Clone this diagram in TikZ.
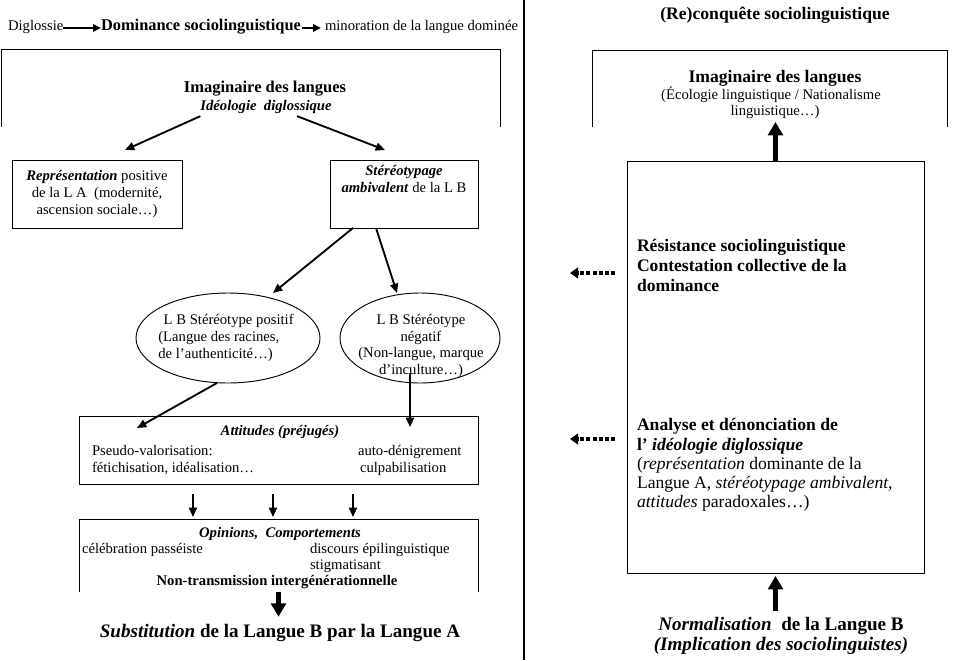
\documentclass[tikz,border=0pt]{standalone}
\usepackage{fontspec}
\setmainfont{Liberation Serif}
\usetikzlibrary{arrows.meta,shapes.geometric,calc}
\newcommand{\szL}{\fontsize{11}{12.65}\selectfont}
\newcommand{\szR}{\fontsize{13.2}{15.2}\selectfont}
\newcommand{\szT}{\fontsize{14.3}{16.5}\selectfont}
\newcommand{\szH}{\fontsize{12.3}{14}\selectfont}
\newcommand{\szI}{\fontsize{12.4}{14}\selectfont}
\begin{document}
\begin{tikzpicture}[x=0.75pt,y=-0.75pt,
  every node/.style={inner sep=0pt,outer sep=0pt},
  box/.style={draw,line width=0.7pt},
  lt/.style={font=\szL},
  ltbi/.style={font=\szL\bfseries\itshape},
  rt/.style={font=\szR},
  rtb/.style={font=\szR\bfseries},
  arr/.style={line width=1.4pt,-{Triangle[length=7pt,width=6pt]}},
  harr/.style={line width=1.4pt,-{Triangle[length=6pt,width=5.5pt]}},
  bigarr/.style={line width=3.8pt,-{Triangle[length=10pt,width=11pt]}},
  dotarr/.style={line width=3pt,dash pattern=on 3pt off 1.6pt,-{Triangle[length=6pt,width=8pt]}}]
\useasboundingbox (0,0) rectangle (963,660);

% header
\node[anchor=base west,lt] (dig) at (8,31) {Diglossie};
\node[anchor=base west,font=\szH\bfseries] (dom) at (101,31) {Dominance sociolinguistique};
\node[anchor=base west,lt] (mino) at (325,31) {minoration de la langue dominée};
\draw[harr] (dig.mid east) -- (dom.mid west);
\draw[harr] ($(dom.mid east)+(1,0)$) -- ($(mino.mid west)+(-4,0)$);
\node[anchor=base,rtb] (reconq) at (775,20) {(Re)conquête sociolinguistique};
\draw[line width=0.8pt] (524,0) -- (524,660);

% left top box
\node[minimum width=374.25pt,minimum height=58.5pt] (ltop) at (250.5,88) {};
\draw[box] (ltop.south west) -- (ltop.north west) -- (ltop.north east) -- (ltop.south east);
\node[anchor=base,font=\szI\bfseries] (imgL) at (265,93) {Imaginaire des langues};
\node[anchor=base,ltbi] (ideo) at (266,110) {Idéologie\ \ diglossique};

% second level
\node[box,minimum width=127.5pt,minimum height=51pt,align=center,lt] (rep) at (97,194)
  {\textbf{\textit{Représentation}} positive\\de la L A\ \ (modernité,\\ascension sociale…)};
\node[box,minimum width=111pt,minimum height=51pt] (ster) at (404,194) {};
\node[anchor=north,align=center,lt] (stert) at (404,165)
  {\textbf{\textit{Stéréotypage}}\\\textbf{\textit{ambivalent}} de la L B};
\draw[arr] ($(ideo.south west)+(0,3)$) -- ($(rep.north)+(28,-10)$);
\draw[arr] ($(ideo.south)+(31,3)$) -- ($(ster.north)+(-19,-10)$);

% ellipses
\node[draw,ellipse,line width=0.7pt,minimum width=138pt,minimum height=67.5pt] (e1) at (228,338) {};
\node[align=left,lt] (e1t) at (226,338)
  {\hspace*{4pt}L B Stéréotype positif\\(Langue des racines,\\de l'authenticité…)};
\node[draw,ellipse,line width=0.7pt,minimum width=120pt,minimum height=67.5pt] (e2) at (420,338) {};
\node[align=center,lt] (e2t) at (421,346)
  {L B Stéréotype\\négatif\\(Non-langue, marque\\d'inculture…)};
\draw[arr] ($(ster.south)+(-51,0)$) -- ($(e1.north)+(45,0)$);
\draw[arr] ($(ster.south)+(-28,0)$) -- ($(e2.north)+(-23,0)$);

% attitudes
\node[box,minimum width=299.25pt,minimum height=51pt] (att) at (278.5,450) {};
\node[anchor=base,ltbi] (atth) at (280,435) {Attitudes (préjugés)};
\node[anchor=base west,lt] (att1) at (92,455) {Pseudo-valorisation:};
\node[anchor=base west,lt] (att2) at (92,472) {fétichisation, idéalisation…};
\node[anchor=base west,lt] (att3) at (358,455) {auto-dénigrement};
\node[anchor=base west,lt] (att4) at (360,472) {culpabilisation};
\draw[arr] ($(e1.south)+(-11,0)$) -- ($(att.north west)+(58,12)$);
\draw[arr] ($(e2.south)+(-10,-10)$) -- ($(att.north east)+(-68,11)$);

% opinions
\node[minimum width=299.25pt,minimum height=54.75pt] (opi) at (278.5,555.5) {};
\draw[box] (opi.south west) -- (opi.north west) -- (opi.north east) -- (opi.south east);
\node[anchor=base,ltbi] (opih) at (280,537) {Opinions,\ \ Comportements};
\node[anchor=base west,lt] (opi1) at (82,553) {célébration passéiste};
\node[anchor=base west,lt] (opi2) at (310,553) {discours épilinguistique};
\node[anchor=base west,lt] (opi3) at (310,569) {stigmatisant};
\node[anchor=base,font=\szL\bfseries] (opi4) at (277,585) {Non-transmission intergénérationnelle};
\foreach \dx in {-85.5,-5.5,74.5}
  \draw[arr] ($(att.south)+(\dx,10)$) -- ($(opi.north)+(\dx,-2)$);

\node[anchor=base,font=\szT\bfseries] (subst) at (280,637) {\textit{Substitution} de la Langue B par la Langue A};
\draw[bigarr] (opi.south) -- ($(opi.south |- subst.north)+(0,-7)$);

% right side
\node[minimum width=266.25pt,minimum height=57.75pt] (rtop) at (769.5,88.5) {};
\draw[box] (rtop.south west) -- (rtop.north west) -- (rtop.north east) -- (rtop.south east);
\node[anchor=base,rtb] (imgR) at (775,83) {Imaginaire des langues};
\node[anchor=base,lt] (eco1) at (771,99) {(Écologie linguistique / Nationalisme};
\node[anchor=base,lt] (eco2) at (775,115) {linguistique…)};

\node[box,minimum width=222.75pt,minimum height=309pt] (rbox) at (775.5,367) {};
\draw[bigarr] (rbox.north) -- ($(rbox.north |- rtop.south)+(0,-5)$);

\node[anchor=base west,rtb] (res1) at (637,251) {Résistance sociolinguistique};
\node[anchor=base west,rtb] (res2) at (637,271) {Contestation collective de la};
\node[anchor=base west,rtb] (res3) at (637,291) {dominance};

\node[anchor=base west,rtb] (ana1) at (637,430) {Analyse et dénonciation de};
\node[anchor=base west,rtb] (ana2) at (637,450) {l' \textit{idéologie diglossique}};
\node[anchor=base west,rt] (ana3) at (637,469) {(\textit{représentation} dominante de la};
\node[anchor=base west,rt] (ana4) at (637,488) {Langue A, \textit{stéréotypage ambivalent,}};
\node[anchor=base west,rt] (ana5) at (637,507) {\textit{attitudes} paradoxales…)};

\draw[dotarr] ($(rbox.north west)+(-12,112)$) -- ($(rbox.north west)+(-57,112)$);
\draw[dotarr] ($(rbox.north west)+(-12,278)$) -- ($(rbox.north west)+(-57,278)$);

\node[anchor=base,font=\szT\bfseries] (norm) at (781,630) {\textit{Normalisation}\ \ de la Langue B};
\node[anchor=base,font=\szT\bfseries\itshape] (impl) at (781,650) {(Implication des sociolinguistes)};
\draw[bigarr] ($(rbox.south |- norm.north)+(0,-6)$) -- ($(rbox.south)+(0,3)$);
\end{tikzpicture}
\end{document}
